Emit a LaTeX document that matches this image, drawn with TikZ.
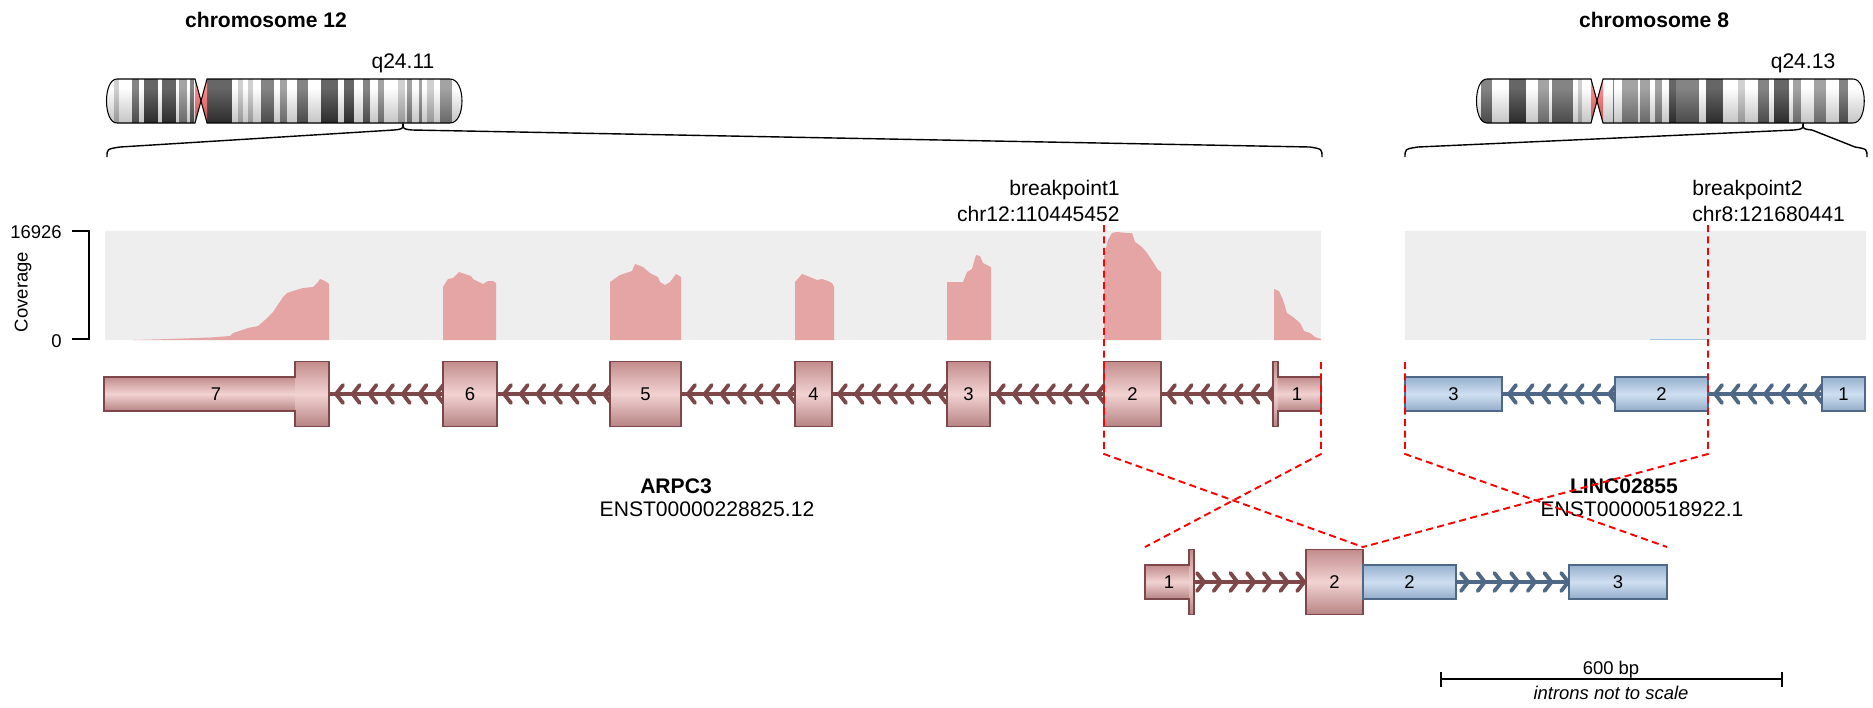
\documentclass[tikz,border=0pt]{standalone}
\usepackage{fontspec}
\setmainfont{Liberation Sans}

\definecolor{geneA}{HTML}{E5A5A5}
\definecolor{geneAdark}{RGB}{126,72,74}
\definecolor{geneB}{HTML}{A7C4E5}
\definecolor{geneBdark}{RGB}{79,104,136}
\definecolor{panelbg}{HTML}{EEEEEE}

% glossy look of the ideograms (bottom -> top)
\pgfdeclareverticalshading{chromgloss}{100bp}{color(0bp)=(black); color(30bp)=(black!50); color(65bp)=(white); color(85bp)=(white); color(100bp)=(black!35)}

% exon box: style, left, right, centre y, half height
\newcommand{\exonbox}[5]{\shadedraw[#1] (#2,#4-#5) rectangle (#3,#4+#5);}
% intron with strand chevrons: colour, left, right, y, arm side (1 or -1), first tip offset
\newcommand{\intron}[6]{%
  \draw[#1, line width=2.5pt] (#2,#4) -- (#3,#4);
  \foreach \k in {0,...,6}{%
    \pgfmathsetmacro{\cx}{#2+#6+16.7*\k}
    \pgfmathsetmacro{\ax}{\cx+(#5)*7}
    \draw[#1, chev] (\ax,#4-9) -- (\cx,#4) -- (\ax,#4+9);}}

\begin{document}
\begin{tikzpicture}[x=0.02cm, y=-0.02cm,
  title/.style={font=\fontsize{12}{14}\selectfont\bfseries, inner sep=0pt},
  lbl/.style={font=\fontsize{12}{14}\selectfont, inner sep=0pt},
  smalllbl/.style={font=\fontsize{10.5}{12}\selectfont, inner sep=0pt},
  exnum/.style={font=\fontsize{10.5}{12}\selectfont, inner sep=0pt},
  exonA/.style={top color=geneA!85!black, bottom color=geneA!80!black, middle color=geneA!50!white},
  exonB/.style={top color=geneB!90!black, bottom color=geneB!88!black, middle color=geneB!55!white},
  edgeA/.style={draw=geneAdark, line width=0.8pt},
  edgeB/.style={draw=geneBdark, line width=0.8pt},
  chev/.style={line width=2.2pt, line cap=round, line join=round},
  zoomline/.style={red, line width=1.1pt, dash pattern=on 4pt off 2.5pt},
  chrom/.style={draw=black, line width=0.6pt}]

\fill[white] (0,0) rectangle (1873,707);
\useasboundingbox (0,0) rectangle (1873,707);

% chromosome titles and band labels
\node[title] (chrA) at (266,20) {chromosome 12};
\node[title] (chrB) at (1654,20) {chromosome 8};
\node[lbl, anchor=base] (bandA) at (403,68) {q24.11};
\node[lbl, anchor=base] (bandB) at (1803,68) {q24.13};

% chr12 ideogram, p arm
\begin{scope}
  \clip (201,101) -- (195,79) -- (117,79) .. controls (103,79) and (103,123) .. (117,123) -- (195,123) -- cycle;
  \fill[white] (100,79) rectangle (202,123);
  \foreach \a/\b/\g in {3.2/5.3/30, 10.0/12.6/80, 14.6/19.8/100, 21.1/26.3/100, 27.6/30.5/60, 31.5/33.2/80}
    \fill[black!\g] ({105+2.6857*\a},79) rectangle ({105+2.6857*\b},123);
  \fill[red!75] (195,79) -- (201,101) -- (195,123) -- cycle;
  \shade[shading=chromgloss, opacity=0.4] (100,79) rectangle (202,123);
\end{scope}
\draw[chrom] (201,101) -- (195,79) -- (117,79) .. controls (103,79) and (103,123) .. (117,123) -- (195,123) -- cycle;
% chr12 ideogram, q arm
\begin{scope}
  \clip (201,101) -- (207,79) -- (450,79) .. controls (466,79) and (466,123) .. (450,123) -- (207,123) -- cycle;
  \fill[white] (200,79) rectangle (465,123);
  \foreach \a/\b/\g in {37.8/47.3/100, 49.5/51.2/30, 53.1/55.1/30, 58.1/63.1/80, 65.1/67.7/60, 71.5/75.7/80,
      80.3/86.7/100, 89.0/92.6/100, 96.2/98.6/80, 101.6/103.8/60, 109.0/111.7/30, 112.3/114.3/60,
      116.8/118.1/60, 120.0/122.5/30, 124.9/129.2/60}
    \fill[black!\g] ({105+2.6857*\a},79) rectangle ({105+2.6857*\b},123);
  \fill[red!75] (207,79) -- (201,101) -- (207,123) -- cycle;
  \shade[shading=chromgloss, opacity=0.4] (200,79) rectangle (465,123);
\end{scope}
\draw[chrom] (201,101) -- (207,79) -- (450,79) .. controls (466,79) and (466,123) .. (450,123) -- (207,123) -- cycle;

% chr8 ideogram, p arm
\begin{scope}
  \clip (1597,101) -- (1591,79) -- (1487,79) .. controls (1473,79) and (1473,123) .. (1487,123) -- (1591,123) -- cycle;
  \fill[white] (1470,79) rectangle (1598,123);
  \foreach \a/\b/\g in {2.2/6.2/80, 12.7/19.1/100, 23.3/27.4/60, 28.8/36.5/80, 38.3/39.7/30}
    \fill[black!\g] ({1475+2.6878*\a},79) rectangle ({1475+2.6878*\b},123);
  \fill[red!75] (1591,79) -- (1597,101) -- (1591,123) -- cycle;
  \shade[shading=chromgloss, opacity=0.4] (1470,79) rectangle (1598,123);
\end{scope}
\draw[chrom] (1597,101) -- (1591,79) -- (1487,79) .. controls (1473,79) and (1473,123) .. (1487,123) -- (1591,123) -- cycle;
% chr8 ideogram, q arm
\begin{scope}
  \clip (1597,101) -- (1603,79) -- (1853,79) .. controls (1868,79) and (1868,123) .. (1853,123) -- (1603,123) -- cycle;
  \fill[white] (1596,79) rectangle (1870,123);
  \foreach \a/\b/\g in {51.3/51.7/80, 54.6/60.6/60, 61.3/65.1/60, 67.1/69.6/60, 72.0/74.6/100, 74.7/83.5/80,
      85.9/92.3/100, 97.9/100.5/30, 105.1/109.5/80, 111.1/116.7/100, 118.3/121.4/60, 126.3/130.4/60,
      135.4/138.9/80}
    \fill[black!\g] ({1475+2.6878*\a},79) rectangle ({1475+2.6878*\b},123);
  \fill[red!75] (1603,79) -- (1597,101) -- (1603,123) -- cycle;
  \shade[shading=chromgloss, opacity=0.4] (1596,79) rectangle (1870,123);
\end{scope}
\draw[chrom] (1597,101) -- (1603,79) -- (1853,79) .. controls (1868,79) and (1868,123) .. (1853,123) -- (1603,123) -- cycle;

% braces from the breakpoint bands down to the gene regions
\coordinate (cutA) at (403,123);
\coordinate (cutB) at (1803,123);
\draw[line width=0.8pt] (107,157) .. controls (107,149) .. (120,147) -- (394,130) .. controls (403,129) .. (cutA)
  .. controls (403,129) .. (412,130) -- (1310,147) .. controls (1322,149) .. (1322,157);
\draw[line width=0.8pt] (1405,157) .. controls (1405,149) .. (1418,147) -- (1794,130) .. controls (1803,129) .. (cutB)
  .. controls (1803,129) .. (1812,130) -- (1855,147) .. controls (1867,149) .. (1867,157);

% breakpoint labels
\node[lbl, anchor=base east] (bpAname) at (1120,195) {breakpoint1};
\node[lbl, anchor=base east] (bpApos) at (1120,221) {chr12:110445452};
\node[lbl, anchor=base west] (bpBname) at (1692,195) {breakpoint2};
\node[lbl, anchor=base west] (bpBpos) at (1692,221) {chr8:121680441};

% coverage panels
\fill[panelbg] (105,231) rectangle (1321,340);
\fill[panelbg] (1405,231) rectangle (1866,340);
\draw[line width=0.6pt] (72,231) -- (89,231) -- (89,339) -- (72,339);
\node[smalllbl, anchor=base east] (covmax) at (62,238) {16926};
\node[smalllbl, anchor=base east] (covmin) at (62,347) {0};
\node[smalllbl, rotate=90] (covname) at (23,292) {Coverage};

% read coverage of ARPC3
\fill[geneA] (133,340) -- (170,339) -- (210,337.5) -- (230,336) -- (233,333) -- (248,328) -- (258,326) -- (265,320)
  -- (273,312) -- (283,297) -- (287,293) -- (293,291) -- (303,288) -- (313,287) -- (318,282) -- (320,279)
  -- (323,280) -- (328,283) -- (329,284) -- (329,340) -- cycle;
\fill[geneA] (443,340) -- (443,287) -- (448,279) -- (453,278) -- (459,272) -- (465,274) -- (471,276) -- (473,279)
  -- (477,281) -- (483,284) -- (488,281) -- (493,281) -- (496,283) -- (496,340) -- cycle;
\fill[geneA] (610,340) -- (610,282) -- (620,275) -- (632,271) -- (635,264) -- (643,267) -- (650,273) -- (658,277)
  -- (660,282) -- (665,285) -- (670,282) -- (676,274) -- (681,277) -- (681,340) -- cycle;
\fill[geneA] (795,340) -- (795,282) -- (802,274) -- (810,277) -- (817,280) -- (822,279) -- (828,281) -- (832,283)
  -- (834,287) -- (834,340) -- cycle;
\fill[geneA] (947,340) -- (947,282) -- (963,282) -- (967,272) -- (972,269) -- (976,255) -- (980,256) -- (983,263)
  -- (991,267) -- (991,340) -- cycle;
\fill[geneA] (1104,340) -- (1104,257) -- (1108,240) -- (1112,233) -- (1117,232) -- (1127,233) -- (1132,233)
  -- (1135,242) -- (1142,247) -- (1147,253) -- (1153,262) -- (1158,270) -- (1161,272) -- (1161,340) -- cycle;
\fill[geneA] (1274,340) -- (1274,289) -- (1279,291) -- (1283,300) -- (1287,313) -- (1293,317) -- (1300,323)
  -- (1304,331) -- (1310,333) -- (1315,337) -- (1321,339) -- (1321,340) -- cycle;
% read coverage of LINC02855
\fill[geneB] (1650,338.5) rectangle (1708,340);

% ARPC3 gene model
\foreach \l/\r in {329/443, 497/610, 681/795, 832/947, 990/1104, 1161/1273}
  \intron{geneAdark}{\l}{\r}{394}{1}{7}
\shade[exonA] (104,377) rectangle (295,411);
\shade[exonA] (295,361.5) rectangle (329,426.5);
\draw[edgeA] (104,377) -- (295,377) -- (295,361.5) -- (329,361.5) -- (329,426.5) -- (295,426.5) -- (295,411) -- (104,411) -- cycle;
\exonbox{exonA,edgeA}{443}{497}{394}{32.5}
\exonbox{exonA,edgeA}{610}{681}{394}{32.5}
\exonbox{exonA,edgeA}{795}{832}{394}{32.5}
\exonbox{exonA,edgeA}{947}{990}{394}{32.5}
\exonbox{exonA,edgeA}{1104}{1161}{394}{32.5}
\shade[exonA] (1278,377) rectangle (1321,411);
\shade[exonA] (1273,361.5) rectangle (1278,426.5);
\draw[edgeA] (1321,377) -- (1278,377) -- (1278,361.5) -- (1273,361.5) -- (1273,426.5) -- (1278,426.5) -- (1278,411) -- (1321,411) -- cycle;
\node[exnum] (a7) at (216,394) {7};
\node[exnum] (a6) at (470,394) {6};
\node[exnum] (a5) at (645.5,394) {5};
\node[exnum] (a4) at (813.5,394) {4};
\node[exnum] (a3) at (968.5,394) {3};
\node[exnum] (a2) at (1132.5,394) {2};
\node[exnum] (a1) at (1297,394) {1};

% LINC02855 gene model
\foreach \l/\r in {1502/1615, 1708/1822}
  \intron{geneBdark}{\l}{\r}{394}{1}{7}
\exonbox{exonB,edgeB}{1405}{1502}{394}{17}
\exonbox{exonB,edgeB}{1615}{1708}{394}{17}
\exonbox{exonB,edgeB}{1822}{1865}{394}{17}
\node[exnum] (b3) at (1453.5,394) {3};
\node[exnum] (b2) at (1661.5,394) {2};
\node[exnum] (b1) at (1843.5,394) {1};

% gene and transcript names
\node[title, anchor=base] (geneAname) at (676,493) {ARPC3};
\node[lbl, anchor=base] (geneAtx) at (707,516) {ENST00000228825.12};
\node[title, anchor=base] (geneBname) at (1624,493) {LINC02855};
\node[lbl, anchor=base] (geneBtx) at (1642,516) {ENST00000518922.1};

% fusion transcript
\intron{geneAdark}{1194}{1306}{582}{-1}{10}
\intron{geneBdark}{1456}{1569}{582}{-1}{12}
\shade[exonA] (1145,565) rectangle (1189,599);
\shade[exonA] (1189,549.5) rectangle (1194,614.5);
\draw[edgeA] (1145,565) -- (1189,565) -- (1189,549.5) -- (1194,549.5) -- (1194,614.5) -- (1189,614.5) -- (1189,599) -- (1145,599) -- cycle;
\exonbox{exonA,edgeA}{1306}{1363}{582}{32.5}
\exonbox{exonB,edgeB}{1363}{1456}{582}{17}
\exonbox{exonB,edgeB}{1569}{1667}{582}{17}
\node[exnum] (f1) at (1169,582) {1};
\node[exnum] (f2) at (1334.5,582) {2};
\node[exnum] (f3) at (1409.5,582) {2};
\node[exnum] (f4) at (1618,582) {3};

% breakpoints and zoom lines
\coordinate (bpAtop) at (1104,225);
\coordinate (bpAbot) at (1104,454);
\coordinate (endAtop) at (1321,362);
\coordinate (endAbot) at (1321,454);
\coordinate (endBtop) at (1405,362);
\coordinate (endBbot) at (1405,454);
\coordinate (bpBtop) at (1708,225);
\coordinate (bpBbot) at (1708,454);
\coordinate (fleft) at (1145,547);
\coordinate (fjoin) at (1363,547);
\coordinate (fright) at (1667,547);
\draw[zoomline] (bpAtop) -- (bpAbot) -- (fjoin);
\draw[zoomline] (endAtop) -- (endAbot) -- (fleft);
\draw[zoomline] (endBtop) -- (endBbot) -- (fright);
\draw[zoomline] (bpBtop) -- (bpBbot) -- (fjoin);

% scale bar
\coordinate (sbL) at (1441,679);
\coordinate (sbR) at (1782,679);
\draw[line width=0.7pt] (sbL) -- (sbR);
\draw[line width=0.7pt] (1441,672) -- (1441,687);
\draw[line width=0.7pt] (1782,672) -- (1782,687);
\node[smalllbl, anchor=base] (sblen) at (1611,674) {600 bp};
\node[smalllbl, anchor=base, font=\fontsize{10.5}{12}\selectfont\itshape] (sbnote) at (1611,699) {introns not to scale};
\end{tikzpicture}
\end{document}
